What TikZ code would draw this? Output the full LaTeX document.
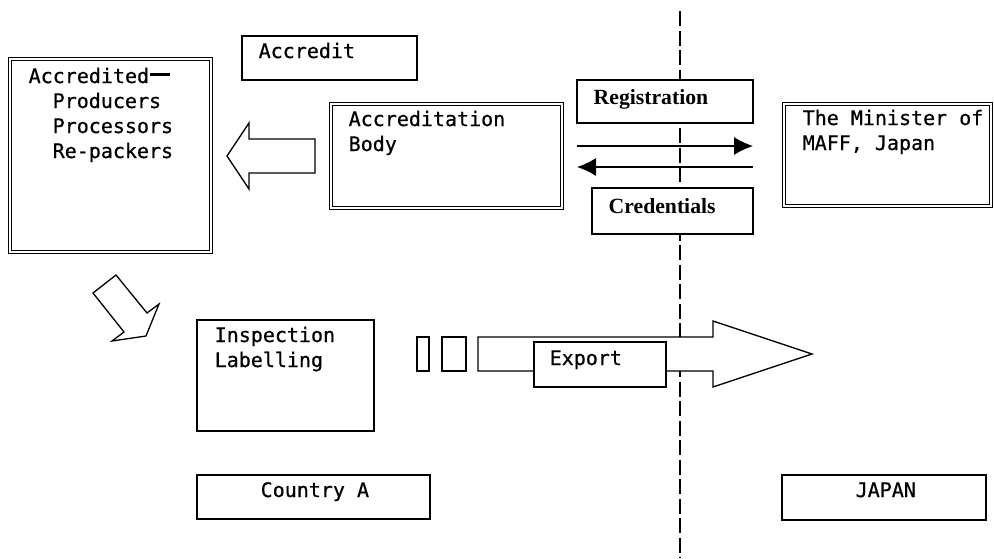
\documentclass[tikz,border=0pt]{standalone}
\usepackage{fontspec}
\usetikzlibrary{arrows.meta}
\newfontfamily\gothic[FakeBold=0.6]{DejaVu Sans Mono}
\newfontfamily\tnr{Liberation Serif}
\def\bardash{\hspace{1pt}\rule[7pt]{20pt}{2.6pt}}

\begin{document}
\begin{tikzpicture}[x=1pt,y=-1pt,line width=1.4pt,>={Latex[length=19pt,width=18pt]},
	box/.style={draw=black,fill=white,outer sep=0pt,inner sep=0pt,anchor=north west},
	dbox/.style={box,double,double distance=2.2pt,line width=1.3pt},
	lbl/.style={font=\gothic\fontsize{20}{25}\selectfont,inner sep=0pt,anchor=base west,align=left},
	blbl/.style={font=\tnr\bfseries\fontsize{21.7}{25}\selectfont,inner sep=0pt,anchor=base west},
	hollow/.style={draw=black,fill=white,line width=1.3pt,line join=miter}]
	\useasboundingbox (0,0) rectangle (994,558);
	\clip (0,0) rectangle (994,558);

	% border between the two countries
	\coordinate (bordertop) at (680,11);
	\coordinate (borderbot) at (680,558);
	\draw [dash pattern=on 15pt off 4.5pt] (bordertop) -- (borderbot);

	% country A side (multi-line labels sit on their last baseline)
	\node [dbox,minimum width=201pt,minimum height=193pt] at (10,59) (accd) {};
	\node [lbl] at (28,158) (accdtxt) {Accredited\bardash\\\hspace*{24pt}Producers\\\hspace*{24pt}Processors\\\hspace*{24pt}Re-packers};
	\node [box,minimum width=175pt,minimum height=44pt] at (242,36) (accr) {};
	\node [lbl] at (258,58) (accrtxt) {Accredit};
	\node [dbox,minimum width=231pt,minimum height=104pt] at (331,104) (body) {};
	\node [lbl] at (348,151) (bodytxt) {Accreditation\\Body};
	\node [box,minimum width=177pt,minimum height=111pt] at (197,320) (insp) {};
	\node [lbl] at (214,367) (insptxt) {Inspection\\Labelling};
	\node [box,minimum width=233pt,minimum height=44pt] at (197,475) (ctry) {};
	\node [lbl] at (260,497) (ctrytxt) {Country A};

	% hollow arrows
	\draw [hollow] (315,139) -- (249,139) -- (249,123) -- (227,156) -- (249,189) -- (249,173) -- (315,173) -- cycle;
	\draw [hollow] (93,293) -- (116,275) -- (147,313) -- (159,304) -- (146,336) -- (112,341) -- (124,332) -- cycle;
	\draw [hollow] (478,337) -- (713,337) -- (713,321) -- (812,354) -- (713,387) -- (713,371) -- (478,371) -- cycle;

	% goods on their way out
	\node [box,minimum width=12pt,minimum height=34pt] at (417,337) (crate1) {};
	\node [box,minimum width=24pt,minimum height=34pt] at (442,337) (crate2) {};
	\node [box,minimum width=132pt,minimum height=45pt] at (534,342) (exp) {};
	\node [lbl] at (549,365) (exptxt) {Export};

	% registration and credentials
	\node [box,minimum width=176pt,minimum height=43pt] at (577,80) (reg) {};
	\node [blbl] at (593,104) (regtxt) {Registration};
	\node [box,minimum width=161pt,minimum height=46pt] at (592,188) (cred) {};
	\node [blbl] at (608,213) (credtxt) {Credentials};
	\draw [->] ([yshift=-23pt]reg.south west) -- ([yshift=-23pt]reg.south east);
	\draw [->] ([yshift=-44pt]reg.south east) -- ([yshift=-44pt]reg.south west);

	% Japan side
	\node [dbox,minimum width=207pt,minimum height=102pt] at (784,104) (maff) {};
	\node [lbl] at (802,150) (mafftxt) {The Minister of\\MAFF, Japan};
	\node [box,minimum width=204pt,minimum height=45pt] at (782,475) (jpn) {};
	\node [lbl] at (855,497) (jpntxt) {JAPAN};
\end{tikzpicture}
\end{document}
